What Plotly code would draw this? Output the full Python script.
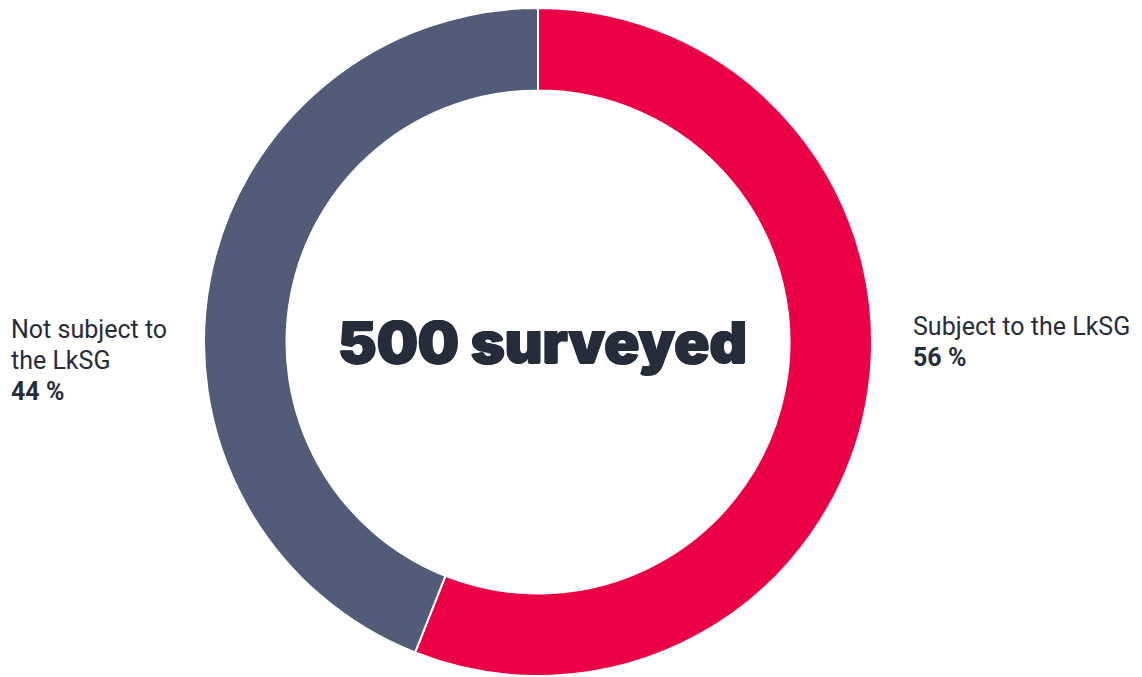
import plotly.graph_objects as go

categories = ["Subject to the LkSG", "Not subject to the LkSG"]
shares = [56, 44]
colors = ["#EB0045", "#525B77"]
center_label = "500 surveyed"

# page body has an 8px margin; figure sized to fit the 1142x677 window
OFF = 8
W, H = 1142 - OFF, 677 - OFF
cx, cy, r = 538 - OFF, 342 - OFF, 334

fig = go.Figure(go.Pie(
    labels=categories,
    values=shares,
    sort=False,
    direction="clockwise",
    rotation=0,
    hole=0.753,
    marker=dict(colors=colors, line=dict(color="white", width=2)),
    textinfo="none",
    hoverinfo="label+percent",
    domain=dict(x=[max(0, (cx - r) / W), min(1, (cx + r) / W)],
                y=[max(0, (H - cy - r) / H), min(1, (H - cy + r) / H)]),
    showlegend=False,
))

txt = "#262C3A"
font_reg = dict(family="Roboto, sans-serif", size=25, color=txt)
font_bold = dict(family="Roboto, sans-serif", size=25, color=txt, weight=700)

def ann(text, x, y, font, anchor="left"):
    fig.add_annotation(text=text, x=(x - OFF) / W, y=1 - (y - OFF) / H,
                       xref="paper", yref="paper",
                       showarrow=False, xanchor=anchor, yanchor="middle", font=font)

# left label
ann("Not subject to", 9, 329, font_reg)
ann("the LkSG", 9, 360, font_reg)
ann(f"{shares[1]} %", 9, 391, font_bold)
# right label
ann(categories[0], 911, 326, font_reg)
ann(f"{shares[0]} %", 911, 357, font_bold)
# center
ann(center_label, 542, 342,
    dict(family="Inter, sans-serif", size=58, color=txt, weight=900,
         shadow="1px 0 0 #262C3A, -1px 0 0 #262C3A, 0 1px 0 #262C3A"),
    anchor="center")

fig.update_layout(width=W, height=H, margin=dict(l=0, r=0, t=0, b=0),
                  paper_bgcolor="white", plot_bgcolor="white")
fig.write_html("out.html")
